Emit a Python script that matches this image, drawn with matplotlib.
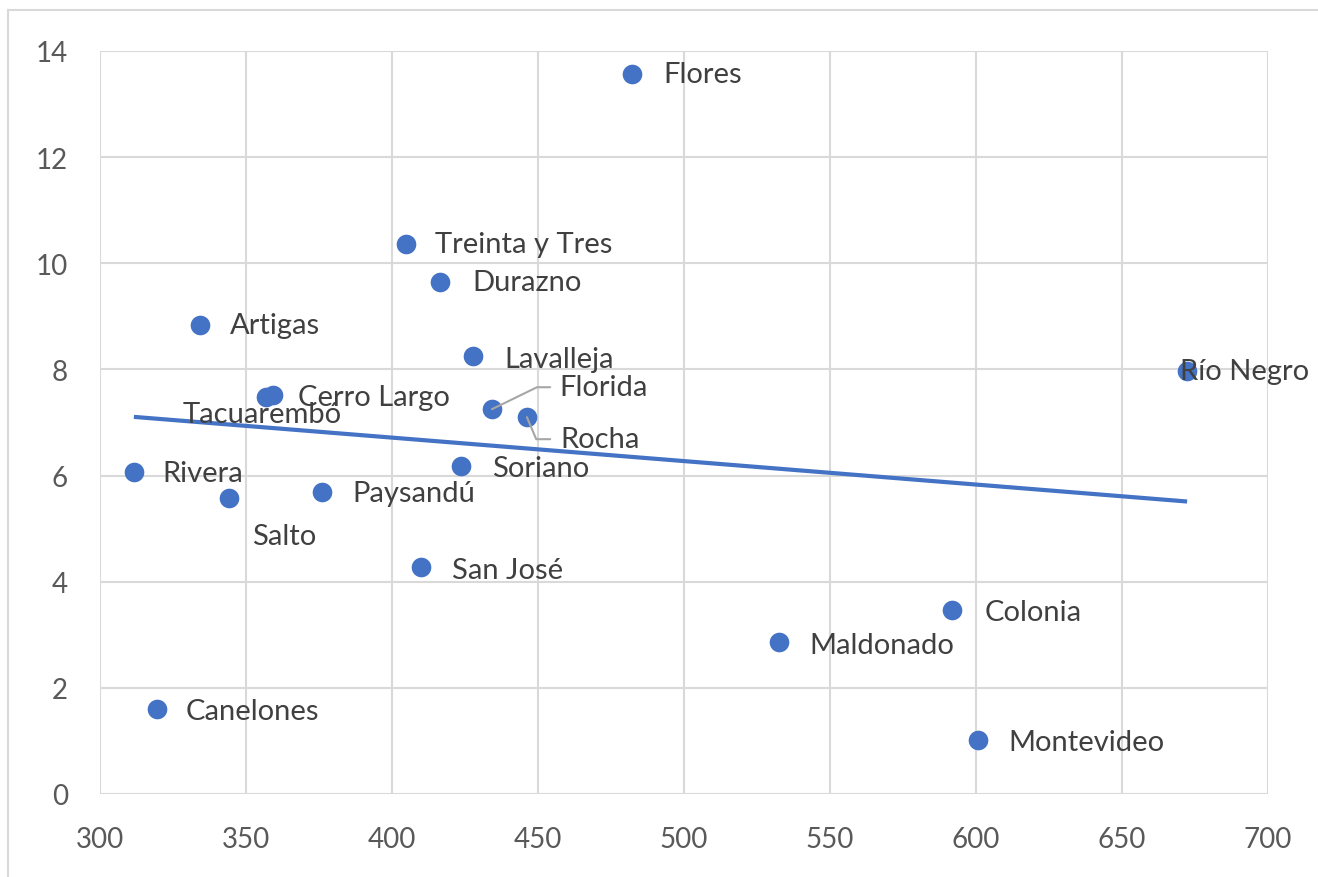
import numpy as np
import matplotlib
matplotlib.use("Agg")
import matplotlib.pyplot as plt
from matplotlib.lines import Line2D

# ---- data ----
departments = ["Flores", "Treinta y Tres", "Durazno", "Artigas", "Lavalleja", "Río Negro",
               "Cerro Largo", "Tacuarembó", "Florida", "Rocha", "Soriano", "Rivera",
               "Salto", "Paysandú", "San José", "Colonia", "Maldonado", "Canelones",
               "Montevideo"]
x_vals = [482.2, 404.8, 416.4, 334.2, 427.7, 672.3, 359.2, 356.8, 434.2, 446.2, 423.6, 311.6,
          344.2, 376.0, 409.9, 591.8, 532.5, 319.5, 600.7]
y_vals = [13.57, 10.36, 9.65, 8.84, 8.25, 7.97, 7.52, 7.48, 7.25, 7.10, 6.18, 6.07,
          5.58, 5.69, 4.28, 3.47, 2.86, 1.60, 1.02]
x_ticks = [300, 350, 400, 450, 500, 550, 600, 650, 700]
y_ticks = [0, 2, 4, 6, 8, 10, 12, 14]

# ---- label placement (pixel offsets from the point) ----
label_offsets = {
    "Flores": (31, 0), "Treinta y Tres": (29, 0), "Durazno": (32, 0), "Artigas": (30, 0),
    "Lavalleja": (31, -3), "Río Negro": (-7, 0), "Cerro Largo": (25, -2),
    "Tacuarembó": (-83, -17), "Florida": (68, 22), "Rocha": (33, -22),
    "Soriano": (31, -2), "Rivera": (29, -1), "Salto": (23, -38), "Paysandú": (30, -1),
    "San José": (31, -3), "Colonia": (33, -2), "Maldonado": (30, -3),
    "Canelones": (29, -2), "Montevideo": (30, -2),
}
leader = {"Florida": 26, "Rocha": -67}

BLUE = "#4472C4"
GRID = "#D9D9D9"
plt.rcParams["font.family"] = ["Lato", "DejaVu Sans"]

fig = plt.figure(figsize=(13.18, 8.78), dpi=100)
ax = fig.add_axes([100 / 1318, 1 - 795 / 878, 1168 / 1318, 743 / 878])

ax.set_xlim(300, 700)
ax.set_ylim(0, 14)
ax.set_xticks(x_ticks)
ax.set_yticks(y_ticks)
ax.grid(True, color=GRID, linewidth=1.5)
ax.set_axisbelow(True)
for s in ax.spines.values():
    s.set_visible(False)
ax.tick_params(length=0, pad=23, labelsize=20, labelcolor="#595959")

ax.scatter(x_vals, y_vals, s=200, color=BLUE, zorder=3, linewidths=0)

# linear trend line
xa = np.array(x_vals)
ya = np.array(y_vals)
m, b = np.polyfit(xa, ya, 1)
xs = np.array([xa.min(), xa.max()])
ax.plot(xs, m * xs + b, color=BLUE, linewidth=3, zorder=2, solid_capstyle="butt")

for name, x, y in zip(departments, x_vals, y_vals):
    dx, dy = label_offsets[name]
    kw = {}
    if name in leader:
        kw["arrowprops"] = dict(arrowstyle="-", color="#A6A6A6", lw=1.5,
                                shrinkA=5, shrinkB=0, relpos=(0, 0.5),
                                connectionstyle=f"angle,angleA=0,angleB={leader[name]},rad=0")
    ax.annotate(name, (x, y), xytext=(dx, dy), textcoords="offset pixels",
                ha="left", va="center", fontsize=21, color="#404040",
                annotation_clip=False, zorder=4, **kw)

# outer chart border (left and top edges visible)
fig.add_artist(Line2D([8 / 1318, 8 / 1318], [0, 1 - 11 / 878], color=GRID, lw=1.5,
                      transform=fig.transFigure))
fig.add_artist(Line2D([8 / 1318, 1], [1 - 11 / 878, 1 - 11 / 878], color=GRID, lw=1.5,
                      transform=fig.transFigure))

fig.savefig("out.png", dpi=100)
